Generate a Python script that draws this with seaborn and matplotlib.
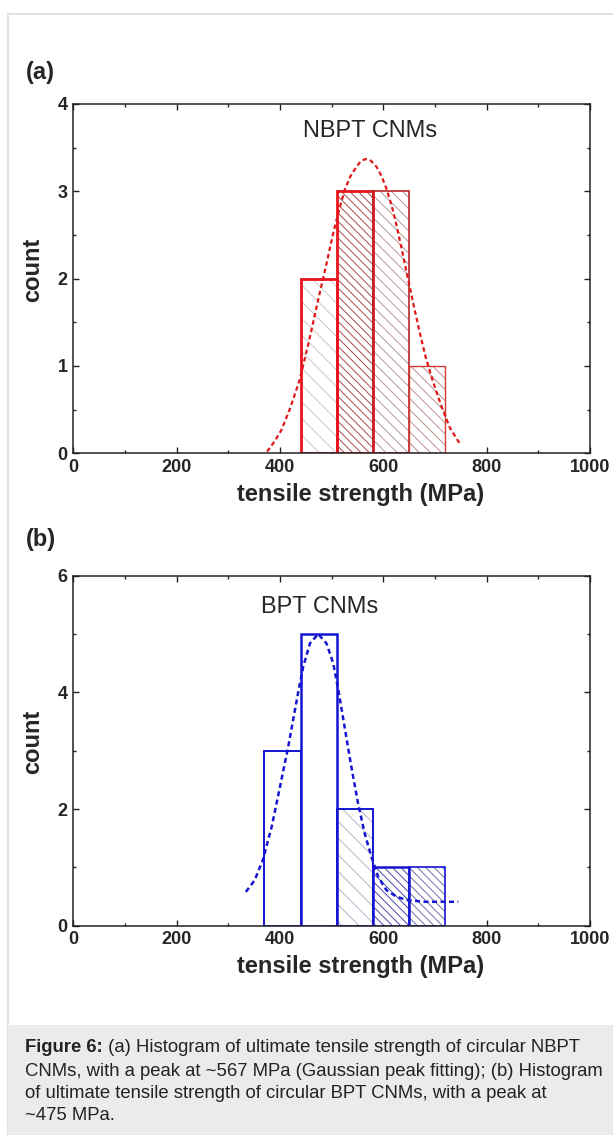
import matplotlib
matplotlib.use("Agg")
import matplotlib.pyplot as plt
from matplotlib.patches import Rectangle
from matplotlib.ticker import MultipleLocator
import seaborn as sns

# bin edges (MPa) and counts
edges_a = [440, 510, 580, 650, 720]
counts_a = [2, 3, 3, 1]
edges_b = [370, 440, 510, 580, 650, 720]
counts_b = [3, 5, 2, 1, 1]

# Gaussian fit curves
fit_a_x = [375, 390, 403, 420, 438, 456, 474, 490, 503, 515, 526, 537, 548, 557, 566,
           576, 587, 597, 606, 616, 626, 637, 648, 660, 671, 682, 693, 703, 713, 729, 748]
fit_a_y = [0.02, 0.14, 0.27, 0.52, 0.84, 1.28, 1.76, 2.17, 2.52, 2.80, 3.03, 3.18, 3.28, 3.35, 3.37,
           3.35, 3.28, 3.17, 3.03, 2.84, 2.60, 2.30, 1.99, 1.66, 1.37, 1.10, 0.88, 0.70, 0.53, 0.29, 0.11]
fit_b_x = [334, 351, 367, 384, 400, 416, 435, 445, 458, 474, 490, 503, 513, 525, 538,
           551, 564, 577, 590, 606, 625, 645, 680, 745]
fit_b_y = [0.58, 0.78, 1.13, 1.70, 2.38, 3.07, 3.99, 4.44, 4.84, 5.00, 4.84, 4.50, 4.04, 3.41, 2.73,
           2.10, 1.58, 1.18, 0.84, 0.61, 0.50, 0.44, 0.41, 0.41]

name_a = "NBPT CNMs"
name_b = "BPT CNMs"
xlabel = "tensile strength (MPa)"
ylabel = "count"
caption_bold = "Figure 6:"
caption_lines = [
    " (a) Histogram of ultimate tensile strength of circular NBPT",
    "CNMs, with a peak at ~567 MPa (Gaussian peak fitting); (b) Histogram",
    "of ultimate tensile strength of circular BPT CNMs, with a peak at",
    "~475 MPa.",
]

sns.set_style("ticks")
plt.rcParams["font.family"] = ["Liberation Sans", "DejaVu Sans"]
plt.rcParams["hatch.linewidth"] = 0.7

W, H = 613, 1135
fig = plt.figure(figsize=(W / 100, H / 100), dpi=100)

# page frame and caption box
fig.patches.append(Rectangle((8 / W, 0), 1, 1 - 14 / H, transform=fig.transFigure,
                             fill=False, edgecolor="#dcdcdc", linewidth=1.2))
fig.patches.append(Rectangle((8 / W, 0), 1, (H - 1025) / H, transform=fig.transFigure,
                             facecolor="#ebebeb", edgecolor="none"))


def panel(ax, edges, counts, hatches, hatch_cols, line_cols, line_ws,
          fit_x, fit_y, fit_col, fit_lw, ymax, ymajor, yminor, name, name_xy):
    centers = [(lo + hi) / 2 for lo, hi in zip(edges[:-1], edges[1:])]
    # hatched fill
    sns.histplot(x=centers, weights=counts, bins=edges, ax=ax, color="white", alpha=1, linewidth=0)
    for p, h, c in zip(ax.patches, hatches, hatch_cols):
        p.set_facecolor("white")
        p.set_hatch(h)
        p.set_edgecolor(c)
        p.set_linewidth(0)
    n = len(ax.patches)
    # outlines
    sns.histplot(x=centers, weights=counts, bins=edges, ax=ax, fill=False, color=fit_col)
    for p, c, w in zip(ax.patches[n:], line_cols, line_ws):
        p.set_edgecolor(c)
        p.set_linewidth(w)
    sns.lineplot(x=fit_x, y=fit_y, ax=ax, color=fit_col, lw=fit_lw, linestyle=(0, (2, 1.4)),
                 estimator=None, sort=False, clip_on=False)
    ax.text(name_xy[0], name_xy[1], name, ha="center", va="center", fontsize=17)

    ax.set_xlim(0, 1000)
    ax.set_ylim(0, ymax)
    ax.xaxis.set_major_locator(MultipleLocator(200))
    ax.xaxis.set_minor_locator(MultipleLocator(100))
    ax.yaxis.set_major_locator(MultipleLocator(ymajor))
    ax.yaxis.set_minor_locator(MultipleLocator(yminor))
    ax.tick_params(which="both", direction="in", top=True, right=True, width=1.0, color="#222222")
    ax.tick_params(which="major", length=4, labelsize=13, pad=4)
    ax.tick_params(which="minor", length=2.5)
    for lab in ax.get_xticklabels() + ax.get_yticklabels():
        lab.set_fontweight("bold")
    for s in ax.spines.values():
        s.set_linewidth(1.1)
        s.set_color("#222222")
    ax.set_xlabel(xlabel, fontsize=17, fontweight="bold")
    ax.set_ylabel(ylabel, fontsize=17, fontweight="bold")
    ax.xaxis.set_label_coords(0.556, -0.085)
    ax.yaxis.set_label_coords(-0.057, 0.525)


ax_a = fig.add_axes([73.3 / W, 1 - 453.3 / H, 516.7 / W, 349.3 / H])
panel(ax_a, edges_a, counts_a,
      ["\\\\", "\\\\\\\\", "\\\\\\", "\\\\\\"],
      ["#cfc6c6", "#a84848", "#b49a9a", "#c09090"],
      ["#e8141c", "#e8141c", "#b8262a", "#d23a3a"],
      [2.0, 2.0, 1.2, 1.0],
      fit_a_x, fit_a_y, "#e01818", 1.6, 4, 1, 0.5, name_a, (575, 3.69))

ax_b = fig.add_axes([73.3 / W, 1 - 925.7 / H, 516.7 / W, 350 / H])
panel(ax_b, edges_b, counts_b,
      [None, None, "\\\\", "\\\\\\\\", "\\\\\\\\"],
      ["white", "white", "#b4b4cc", "#4848a0", "#7070a8"],
      ["#1414d2", "#1414d2", "#1414d2", "#1414d2", "#1414d2"],
      [1.4, 1.8, 1.4, 1.8, 1.2],
      fit_b_x, fit_b_y, "#1414d2", 1.8, 6, 2, 1, name_b, (477, 5.47))

fig.text(26 / W, 1 - 72 / H, "(a)", fontsize=17, fontweight="bold", va="center")
fig.text(26 / W, 1 - 540 / H, "(b)", fontsize=17, fontweight="bold", va="center")

# caption
cap_y = [1048, 1071, 1093, 1115]
cap_size = 13.3
r = fig.canvas.get_renderer()
tb = fig.text(25 / W, 1 - cap_y[0] / H, caption_bold, fontsize=cap_size, fontweight="bold",
              va="center", color="#222222")
bb = tb.get_window_extent(renderer=r)
fig.text(bb.x1 / W, 1 - cap_y[0] / H, caption_lines[0], fontsize=cap_size, va="center", color="#222222")
for y, line in zip(cap_y[1:], caption_lines[1:]):
    fig.text(25 / W, 1 - y / H, line, fontsize=cap_size, va="center", color="#222222")

fig.savefig("out.png", dpi=100)
